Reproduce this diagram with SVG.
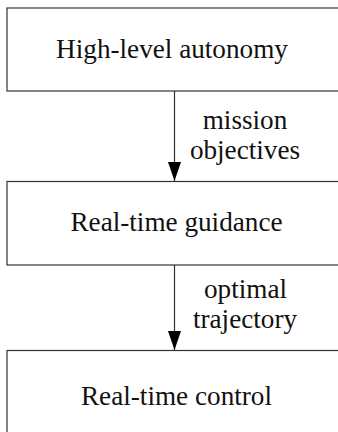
<svg xmlns="http://www.w3.org/2000/svg" width="338" height="432" viewBox="0 0 338 432">
<style>
.box{fill:#fff;stroke:#333;stroke-width:1.2}
.t{font-family:"Liberation Serif","DejaVu Serif",serif;font-size:27.2px;fill:#111;text-anchor:middle}
.c{stroke:#333;stroke-width:1.2;fill:none}
</style>
<defs>
<marker id="ah" markerUnits="userSpaceOnUse" markerWidth="19" markerHeight="13" refX="19" refY="6.5" orient="auto" viewBox="0 0 19 13">
<path d="M0,0 L19,6.5 L0,13 Z" fill="#000"/>
</marker>
</defs>
<g id="n1"><rect class="box" x="7" y="8" width="340" height="83"/><text class="t" x="172" y="57.5">High-level autonomy</text></g>
<g id="n2"><rect class="box" x="7" y="181.5" width="340" height="83.5"/><text class="t" x="176.5" y="231">Real-time guidance</text></g>
<g id="n3"><rect class="box" x="7" y="350.5" width="340" height="100"/><text class="t" x="176.5" y="405">Real-time control</text></g>
<g id="connectors">
<line class="c" x1="174.5" y1="91" x2="174.5" y2="181" marker-end="url(#ah)"/>
<line class="c" x1="174.5" y1="265" x2="174.5" y2="350" marker-end="url(#ah)"/>
<text class="t" x="245" y="128.5">mission</text>
<text class="t" x="245" y="158.5">objectives</text>
<text class="t" x="245.5" y="298.3">optimal</text>
<text class="t" x="245" y="327.5">trajectory</text>
</g>
</svg>
